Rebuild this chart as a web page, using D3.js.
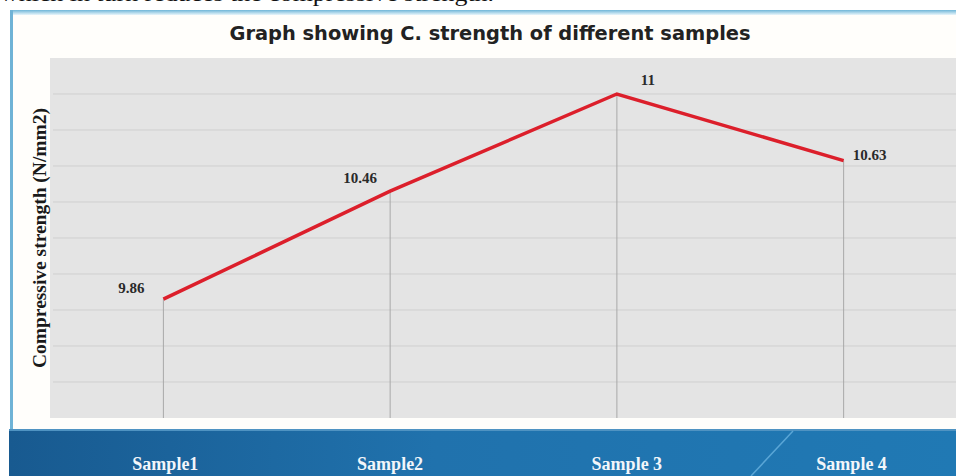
<!DOCTYPE html>
<html><head><meta charset="utf-8">
<script src="https://cdn.jsdelivr.net/npm/d3@7"></script>
<style>html,body{margin:0;padding:0;background:#fff;overflow:hidden}</style>
</head><body>
<script>
const categories = ["Sample1", "Sample2", "Sample 3", "Sample 4"];
const strength = [9.86, 10.46, 11, 10.63];
const valueLabels = ["9.86", "10.46", "11", "10.63"];
const yGridTicks = [9.2, 9.4, 9.6, 9.8, 10, 10.2, 10.4, 10.6, 10.8, 11, 11.2];
const chartTitle = "Graph showing C. strength of different samples";
const yTitle = "Compressive strength (N/mm2)";
const topText = "which in turn reduces the compressive strength.";

const W = 956, H = 476;
const svg = d3.select("body").append("svg").attr("width", W).attr("height", H);
const defs = svg.append("defs");
const bandGrad = defs.append("linearGradient").attr("id", "band").attr("x1", 0).attr("x2", 1);
bandGrad.append("stop").attr("offset", "0%").attr("stop-color", "#185a90");
bandGrad.append("stop").attr("offset", "45%").attr("stop-color", "#2072ad");
bandGrad.append("stop").attr("offset", "100%").attr("stop-color", "#2079b4");
const topGrad = defs.append("linearGradient").attr("id", "topb").attr("x1", 0).attr("x2", 0).attr("y1", 0).attr("y2", 1);
topGrad.append("stop").attr("offset", "0%").attr("stop-color", "#6fb6d8");
topGrad.append("stop").attr("offset", "100%").attr("stop-color", "#eaf6fb");

// text from the page above, clipped by the top edge as in the screenshot
svg.append("text").attr("x", 0).attr("y", 1)
  .attr("font-family", "Liberation Serif, Times New Roman, serif").attr("font-size", 22)
  .attr("textLength", 494).attr("lengthAdjust", "spacingAndGlyphs")
  .attr("fill", "#111").text(topText);

// slide panel
svg.append("rect").attr("x", 10).attr("y", 10).attr("width", W - 10).attr("height", 420).attr("fill", "#fffefb");
svg.append("rect").attr("x", 10).attr("y", 10).attr("width", W - 10).attr("height", 5).attr("fill", "url(#topb)");
svg.append("rect").attr("x", 10).attr("y", 10).attr("width", 3).attr("height", 420).attr("fill", "#6fb3d6");

// bottom band
svg.append("rect").attr("x", 9).attr("y", 429).attr("width", W - 9).attr("height", H - 429).attr("fill", "url(#band)");
svg.append("rect").attr("x", 9).attr("y", 429).attr("width", W - 9).attr("height", 2).attr("fill", "#4f93c2");
svg.append("line").attr("x1", 793).attr("y1", 431).attr("x2", 751).attr("y2", 476)
  .attr("stroke", "#5aa6d6").attr("stroke-width", 1.5);

// scales
const plot = {left: 50, right: 957, top: 58, bottom: 418};
const x = d3.scaleBand().domain(categories).range([plot.left, plot.right]);
const y = d3.scaleLinear().domain([9.2, 11.2]).range([plot.bottom, plot.top]);
const cx = d => x(d) + x.bandwidth() / 2;

// plot area
svg.append("rect").attr("x", plot.left).attr("y", plot.top).attr("width", plot.right - plot.left)
  .attr("height", plot.bottom - plot.top).attr("fill", "#e4e4e4");
svg.append("g").selectAll("line").data(yGridTicks.slice(1, -1)).join("line")
  .attr("x1", plot.left + 3).attr("x2", plot.right).attr("y1", d => y(d)).attr("y2", d => y(d))
  .attr("stroke", "#cfcfcf").attr("stroke-width", 1);

// drop lines
svg.append("g").selectAll("line").data(categories).join("line")
  .attr("x1", d => cx(d)).attr("x2", d => cx(d))
  .attr("y1", (d, i) => y(strength[i])).attr("y2", plot.bottom)
  .attr("stroke", "#a8a8a8").attr("stroke-width", 1);

// line
const pts = categories.map((c, i) => [cx(c), y(strength[i])]);
svg.append("path").attr("d", d3.line()(pts)).attr("fill", "none")
  .attr("stroke", "#dc1f2b").attr("stroke-width", 3.5).attr("stroke-linejoin", "miter");

// value labels
const labelOffsets = [[-32, -6], [-30, -8], [31, -9], [26, -1]];
svg.append("g").selectAll("text").data(valueLabels).join("text")
  .attr("x", (d, i) => pts[i][0] + labelOffsets[i][0])
  .attr("y", (d, i) => pts[i][1] + labelOffsets[i][1])
  .attr("text-anchor", "middle")
  .attr("font-family", "Liberation Serif, Times New Roman, serif").attr("font-weight", "bold")
  .attr("font-size", 15).attr("fill", "#2a2a2a").text(d => d);

// title
svg.append("text").attr("x", 490).attr("y", 40).attr("text-anchor", "middle")
  .attr("font-family", "DejaVu Sans, sans-serif").attr("font-weight", "bold").attr("font-size", 19)
  .attr("textLength", 521).attr("lengthAdjust", "spacingAndGlyphs")
  .attr("fill", "#222").text(chartTitle);

// y title
svg.append("text").attr("transform", "translate(46,238) rotate(-90)").attr("text-anchor", "middle")
  .attr("font-family", "Liberation Serif, Times New Roman, serif").attr("font-weight", "bold")
  .attr("font-size", 18).attr("textLength", 260).attr("lengthAdjust", "spacingAndGlyphs")
  .attr("fill", "#1a1a1a").text(yTitle);

// category labels
const catNudge = [2, 0, 10, 8];
svg.append("g").selectAll("text").data(categories).join("text")
  .attr("x", (d, i) => cx(d) + catNudge[i]).attr("y", 470).attr("text-anchor", "middle")
  .attr("font-family", "Liberation Serif, Times New Roman, serif").attr("font-weight", "bold")
  .attr("font-size", 18).attr("fill", "#f2f6fa").text(d => d);
</script>
</body></html>
